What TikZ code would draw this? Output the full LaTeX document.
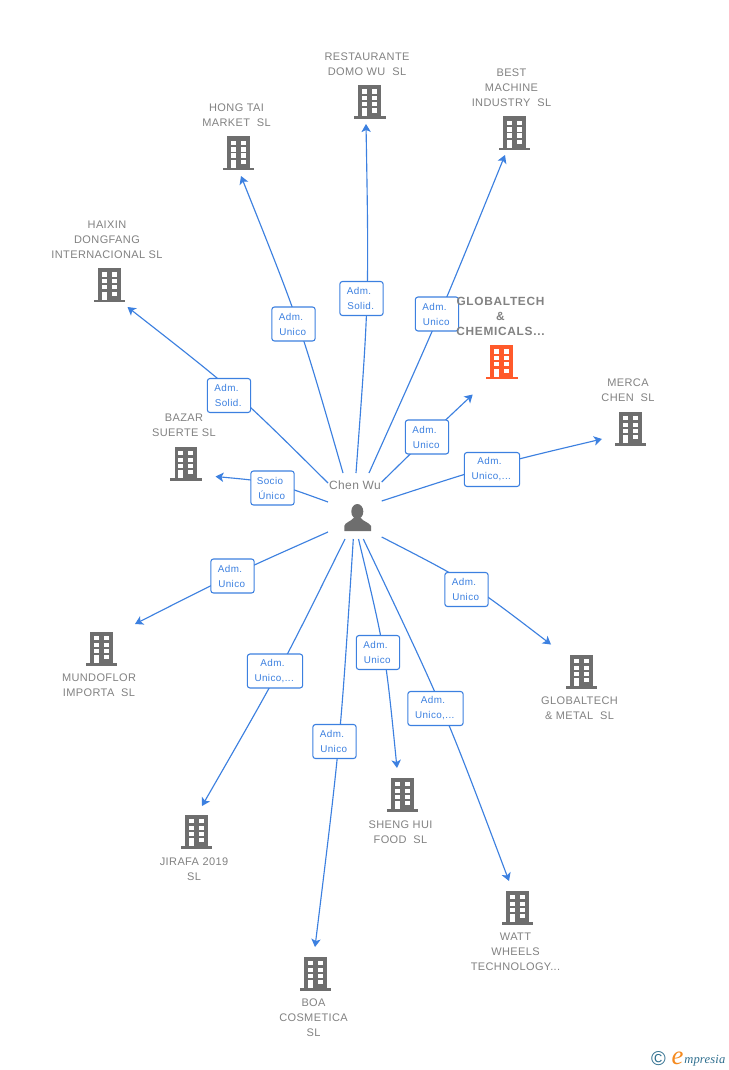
\documentclass[tikz,border=0pt]{standalone}
\usepackage{fontspec}
\setmainfont{Liberation Sans}
\newfontfamily\namefont[LetterSpace=3.5]{Liberation Sans}
\newfontfamily\chemfont[LetterSpace=6]{Liberation Sans}
\newfontfamily\tagfont[LetterSpace=4]{Liberation Sans}
\newfontfamily\hubfont[LetterSpace=3]{Liberation Sans}
\newfontfamily\logofont[LetterSpace=1.5]{Liberation Serif}
\usetikzlibrary{calc,arrows.meta}
\definecolor{linkblue}{HTML}{3C80E0}
\definecolor{namegray}{HTML}{828282}
\definecolor{bldgray}{HTML}{6E6E6E}
\definecolor{bldorange}{HTML}{FF5A2B}
\definecolor{logoteal}{HTML}{2F6F8F}
\definecolor{logoorange}{HTML}{F58A1F}
\pgfdeclarelayer{connlayer}
\pgfsetlayers{connlayer,main}
\tikzset{
  x=0.75pt,y=-0.75pt,
  conn/.style={draw=linkblue,line width=0.85pt,-{Stealth[length=6pt,width=7pt,inset=1.5pt]}},
  tagbox/.style={draw=linkblue,fill=white,rounded corners=2pt,line width=0.8pt,text=linkblue,
    font=\tagfont\fontsize{7.4pt}{11.25pt}\selectfont,align=center,minimum height=25.5pt,inner sep=0pt,minimum width=32.5pt},
  widebox/.style={minimum width=41.5pt},
  nametext/.style={text=namegray,font=\namefont\fontsize{8.25pt}{11.25pt}\selectfont,align=center,inner sep=0pt},
  chemtext/.style={text=namegray,font=\chemfont\fontsize{8.9pt}{11.25pt}\selectfont\bfseries,align=center,inner sep=0pt},
  bld/.pic={
    \fill[pic actions] (-11.4,0) rectangle (11.4,32);
    \fill[pic actions] (-15.7,31.5) rectangle (15.7,34);
    \foreach \wy in {4.3,11,17,23.5}{
      \fill[white] (-7.6,\wy) rectangle (-2.6,\wy+4.4);
      \fill[white] (2.4,\wy) rectangle (7.4,\wy+4.4);
    }
    \fill[white] (-7.6,23.5) rectangle (-2.6,31.5);
  }
}
\newcommand{\linkup}[3]{%
  \draw[conn] (#1) .. controls ($2*(#2)-0.5*(#1)-0.5*(#3)$) .. (#3);}
\newcommand{\twolines}[2]{#1\hspace*{3.75pt}\\#2\hspace*{1.2pt}}
\begin{document}
\begin{tikzpicture}
\useasboundingbox (0,0) rectangle (728,1070);

% tags
\node[tagbox] (t1) at (361.5,298.5) {\twolines{Adm.}{Solid.}};
\node[tagbox] (t2) at (293.5,324) {\twolines{Adm.}{Unico}};
\node[tagbox] (t3) at (437,314) {\twolines{Adm.}{Unico}};
\node[tagbox] (t4) at (229,395.5) {\twolines{Adm.}{Solid.}};
\node[tagbox] (t5) at (272.5,488) {\twolines{Socio}{Único}};
\node[tagbox] (t6) at (427,437) {\twolines{Adm.}{Unico}};
\node[tagbox,widebox] (t7) at (492,469.5) {\twolines{Adm.}{Unico,...}};
\node[tagbox] (t8) at (466.5,589.5) {\twolines{Adm.}{Unico}};
\node[tagbox,widebox] (t9) at (435.5,708.5) {\twolines{Adm.}{Unico,...}};
\node[tagbox] (t10) at (378,652.5) {\twolines{Adm.}{Unico}};
\node[tagbox] (t11) at (334.5,741.5) {\twolines{Adm.}{Unico}};
\node[tagbox,widebox] (t12) at (275,671) {\twolines{Adm.}{Unico,...}};
\node[tagbox] (t13) at (232.5,576) {\twolines{Adm.}{Unico}};

% free ends and the points each connector passes behind its tag
\coordinate (s1) at (356,473);   \coordinate (m1) at (365,298);   \coordinate (e1) at (366,124);
\coordinate (s2) at (343,473);   \coordinate (m2) at (296,324);   \coordinate (e2) at (241,176);
\coordinate (s3) at (369,473);   \coordinate (m3) at (438.7,314); \coordinate (e3) at (505,155);
\coordinate (s4) at (328,483);   \coordinate (m4) at (232,393.5); \coordinate (e4) at (127.5,307);
\coordinate (s5) at (328,502);   \coordinate (m5) at (272,485.5); \coordinate (e5) at (215.5,476.5);
\coordinate (s6) at (381.7,482); \coordinate (m6) at (427.5,437.5); \coordinate (e6) at (472.7,394.5);
\coordinate (s7) at (381.7,501); \coordinate (m7) at (492,467.5); \coordinate (e7) at (602,439);
\coordinate (s8) at (381.7,537); \coordinate (m8) at (468,586.5); \coordinate (e8) at (551,644.5);
\coordinate (s9) at (363.3,539); \coordinate (m9) at (440,709);   \coordinate (e9) at (509,881);
\coordinate (s10) at (358.5,539);\coordinate (m10) at (381.5,652);\coordinate (e10) at (397,768);
\coordinate (s11) at (353.3,539);\coordinate (m11) at (337.3,741.5);\coordinate (e11) at (315,947);
\coordinate (s12) at (345,539);  \coordinate (m12) at (277,671);  \coordinate (e12) at (202,806);
\coordinate (s13) at (328,532);  \coordinate (m13) at (232.5,576);\coordinate (e13) at (135,624);

\begin{pgfonlayer}{connlayer}
\fill[white] (0,0) rectangle (728,1070);
\foreach \i in {1,...,13}{\linkup{s\i}{m\i}{e\i}}
\end{pgfonlayer}

% centre person
\node[text=namegray,font=\hubfont\fontsize{9pt}{11pt}\selectfont,inner sep=0pt] (chen) at (355,485) {Chen Wu};
\fill[bldgray] (357.3,511.5) ellipse (6 and 7.5);
\fill[bldgray] (344.3,531) -- (344.3,526) .. controls (345,522) and (351,522) .. (354.5,517) -- (360,517)
   .. controls (363,522) and (369,522) .. (371,526) -- (371,531) -- cycle;

% buildings
\foreach \bx/\by in {369.8/85,238.3/136.5,514.3/116.5,109.3/268,186/446.5,630.3/411.5,101.3/631.5,581.3/654.5,402.3/777.5,196.3/814.5,517.3/890.5,315.3/956.5}{
  \pic[fill=bldgray] at (\bx,\by) {bld};
}
\pic[fill=bldorange] at (501.8,345) {bld};

% names
\node[nametext] (n1) at (367,64) {RESTAURANTE\\DOMO WU\ \ SL};
\node[nametext] (n2) at (236.5,115) {HONG TAI\\MARKET\ \ SL};
\node[nametext] (n3) at (511.5,87.5) {BEST\\MACHINE\\INDUSTRY\ \ SL};
\node[nametext] (n4) at (107,239.5) {HAIXIN\\DONGFANG\\INTERNACIONAL SL};
\node[nametext] (n5) at (184,425.5) {BAZAR\\SUERTE SL};
\node[chemtext] (n6) at (500.5,316) {GLOBALTECH\\\&\\CHEMICALS...};
\node[nametext] (n7) at (628,390.5) {MERCA\\CHEN\ \ SL};
\node[nametext] (n8) at (99,685) {MUNDOFLOR\\IMPORTA\ \ SL};
\node[nametext] (n9) at (579.5,708) {GLOBALTECH\\\& METAL\ \ SL};
\node[nametext] (n10) at (400.5,832) {SHENG HUI\\FOOD\ \ SL};
\node[nametext] (n11) at (194,869) {JIRAFA 2019\\SL};
\node[nametext] (n12) at (515.5,951.5) {WATT\\WHEELS\\TECHNOLOGY...};
\node[nametext] (n13) at (313.5,1017.5) {BOA\\COSMETICA\\SL};

% logo
\node[text=logoteal,font=\fontsize{15pt}{15pt}\selectfont,inner sep=0pt] (copy) at (658.5,1059) {©};
\node[text=logoorange,font=\logofont\fontsize{20pt}{20pt}\selectfont\itshape,inner sep=0pt] (loge) at (677.5,1058.5) {e};
\node[text=logoteal,font=\logofont\fontsize{9.4pt}{10pt}\selectfont\itshape,inner sep=0pt,anchor=base west] (logt) at (684,1063.5) {mpresia};
\end{tikzpicture}
\end{document}
